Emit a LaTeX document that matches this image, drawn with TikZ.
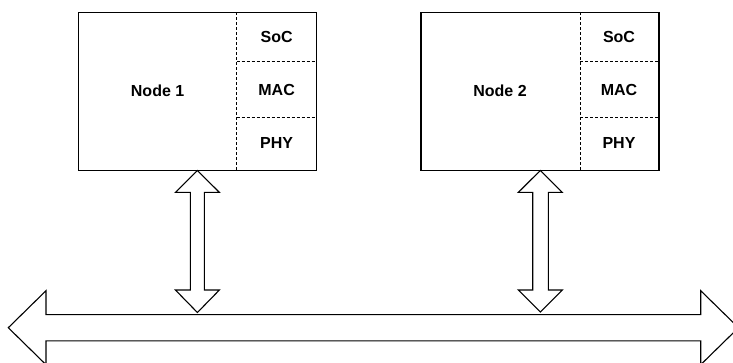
\documentclass[tikz,border=0pt]{standalone}
\usepackage{fontspec}
\setmainfont{Liberation Sans}
\usetikzlibrary{calc}
\begin{document}
\begin{tikzpicture}[x=1pt,y=-1pt,
  outerbox/.style={draw=black, line width=1.1pt, minimum width=238pt, minimum height=157.7pt, inner sep=0pt},
  lbl/.style={font=\fontsize{16}{18}\selectfont\bfseries, inner sep=0pt},
  divider/.style={line width=0.9pt, dash pattern=on 3pt off 2pt},
  fatarrow/.style={draw=black, line width=1.1pt, line join=miter, fill=white}]
\useasboundingbox (0,0) rectangle (733,362);
\clip (0,0) rectangle (733,362);

% Node 1
\node[outerbox] (n1) at (197.6,91.2) {};
\node[lbl] (n1t) at (157.6,91) {Node 1};
\node[lbl] (soc1) at (276.6,36.7) {SoC};
\node[lbl] (mac1) at (276.6,90) {MAC};
\node[lbl] (phy1) at (276.6,142.7) {PHY};
\draw[divider] (236.7,12.3) -- (236.7,170);
\draw[divider] (236.7,61) -- (316.6,61);
\draw[divider] (236.7,117) -- (316.6,117);

% Node 2
\node[outerbox] (n2) at (540,91.2) {};
\node[lbl] (n2t) at (500,91) {Node 2};
\node[lbl] (soc2) at (619,36.7) {SoC};
\node[lbl] (mac2) at (619,90) {MAC};
\node[lbl] (phy2) at (619,142.7) {PHY};
\draw[divider] (580,12.3) -- (580,170);
\draw[divider] (580,61) -- (659,61);
\draw[divider] (580,117) -- (659,117);

% Bus
\coordinate (busL) at (8.3,327.7);
\coordinate (busR) at (738.5,327.7);
\draw[fatarrow] (busL) -- (46,290.7) -- (46,314.6) -- (700.7,314.6) -- (700.7,290.7)
  -- (busR) -- (700.7,364.7) -- (700.7,340.8) -- (46,340.8) -- (46,364.7) -- cycle;

% Vertical arrow 1
\draw[fatarrow] (197.4,170.5) -- (219.4,192.4) -- (204.4,192.4) -- (204.4,290) -- (219.4,290)
  -- (197.4,312.5) -- (175.4,290) -- (190.4,290) -- (190.4,192.4) -- (175.4,192.4) -- cycle;

% Vertical arrow 2
\draw[fatarrow] (540.3,170.5) -- (562.3,192.4) -- (548.3,192.4) -- (548.3,290) -- (562.3,290)
  -- (540.3,312) -- (518.3,290) -- (532.7,290) -- (532.7,192.4) -- (518.3,192.4) -- cycle;
\end{tikzpicture}
\end{document}
